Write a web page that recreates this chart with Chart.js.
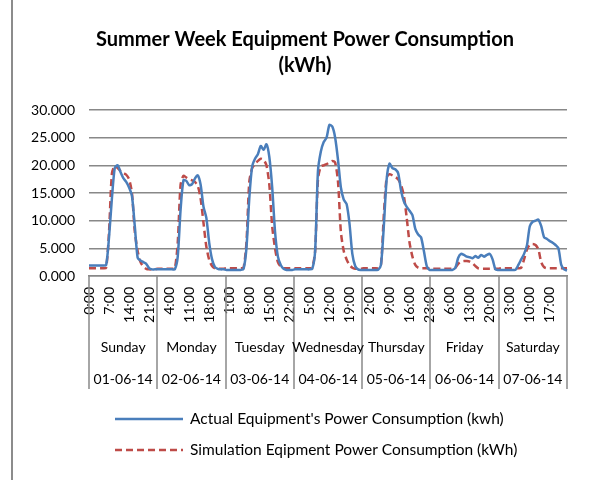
<!DOCTYPE html>
<html>
<head>
<meta charset="utf-8">
<script src="https://cdn.jsdelivr.net/npm/chart.js@4"></script>
<style>
  body { margin: 0; background: #fff; }
</style>
</head>
<body>
<canvas id="myChart" width="593" height="480"></canvas>
<script>
const titleLines = ['Summer Week Equipment Power Consumption', '(kWh)'];
const hours = ['0:00','1:00','2:00','3:00','4:00','5:00','6:00','7:00','8:00','9:00','10:00','11:00',
               '12:00','13:00','14:00','15:00','16:00','17:00','18:00','19:00','20:00','21:00','22:00','23:00'];
const dayNames = ['Sunday','Monday','Tuesday','Wednesday','Thursday','Friday','Saturday'];
const dayDates = ['01-06-14','02-06-14','03-06-14','04-06-14','05-06-14','06-06-14','07-06-14'];

// actual equipment power (kWh), one array per day, hourly
const actualSun = [1.9,1.9,1.9,1.9,1.9,1.9,2.0,7.0,14.0,19.5,20.0,18.8,17.7,17.0,16.0,14.5,9.0,3.3,2.8,2.5,2.2,1.4,1.2,1.2];
const actualMon = [1.2,1.2,1.2,1.2,1.2,1.2,1.2,3.5,12.0,17.3,17.2,16.4,16.6,17.6,18.2,16.5,12.5,10.5,6.0,3.0,1.6,1.3,1.2,1.2];
const actualTue = [1.1,1.1,1.1,1.1,1.1,1.1,1.3,5.0,14.0,19.8,21.2,22.0,23.5,22.8,23.8,21.5,16.0,8.0,3.5,2.0,1.3,1.1,1.1,1.1];
const actualWed = [1.2,1.2,1.2,1.2,1.2,1.2,1.3,4.5,19.0,22.5,24.2,25.0,27.3,27.0,25.0,21.0,16.0,13.8,13.0,9.5,4.0,1.8,1.2,1.1];
const actualThu = [1.1,1.1,1.1,1.1,1.1,1.1,2.0,9.0,17.5,20.3,19.5,19.3,18.6,15.5,13.5,12.5,11.8,11.0,8.5,7.5,7.0,4.5,1.8,1.1];
const actualFri = [1.1,1.1,1.1,1.1,1.1,1.1,1.1,1.1,1.5,3.3,4.0,3.8,3.5,3.4,3.2,3.6,3.3,3.8,3.5,3.8,4.0,3.0,1.2,1.1];
const actualSat = [1.1,1.1,1.1,1.1,1.1,1.1,2.0,3.0,4.0,5.5,9.0,9.8,10.0,10.2,9.0,7.0,6.7,6.3,6.0,5.6,5.0,2.0,1.2,1.0];

// simulation
const simSun = [1.4,1.4,1.4,1.4,1.4,1.4,1.5,8.0,18.5,19.9,19.5,19.0,18.6,18.3,17.5,15.0,8.0,4.5,2.5,1.7,1.3,1.2,1.2,1.2];
const simMon = [1.3,1.3,1.3,1.3,1.3,1.3,1.4,6.0,16.5,18.1,17.8,17.5,17.3,17.0,16.3,14.0,9.6,5.3,2.9,1.8,1.4,1.3,1.3,1.3];
const simTue = [1.4,1.4,1.4,1.4,1.4,1.4,1.5,6.0,17.0,19.5,20.2,20.8,21.2,21.0,20.0,16.5,9.0,5.0,2.5,1.7,1.4,1.4,1.4,1.4];
const simWed = [1.4,1.4,1.4,1.4,1.4,1.4,1.5,4.5,17.5,19.8,20.0,20.2,20.5,20.8,20.5,17.0,8.0,4.5,3.0,2.0,1.5,1.3,1.3,1.3];
const simThu = [1.4,1.4,1.4,1.4,1.4,1.4,2.0,11.0,17.8,18.4,18.2,17.9,17.5,16.5,14.5,10.5,6.0,3.5,2.0,1.5,1.4,1.4,1.4,1.4];
const simFri = [1.3,1.3,1.3,1.3,1.3,1.3,1.3,1.3,1.5,2.2,2.6,2.7,2.7,2.6,2.3,1.8,1.4,1.3,1.3,1.3,1.3,1.3,1.3,1.3];
const simSat = [1.4,1.4,1.4,1.4,1.4,1.4,1.4,1.5,3.0,4.8,5.6,5.8,5.6,4.8,2.5,1.6,1.4,1.4,1.4,1.4,1.4,1.4,1.4,1.4];

const labels = dayNames.flatMap(() => hours);
const actual = [].concat(actualSun, actualMon, actualTue, actualWed, actualThu, actualFri, actualSat);
const simulation = [].concat(simSun, simMon, simTue, simWed, simThu, simFri, simSat);

const FONT = 'Lato';
const TXT = '#000';

// title, left chart border, day/date rows under the axis and the legend
const excelDecor = {
  id: 'excelDecor',
  afterDraw(chart) {
    const ctx = chart.ctx;
    const a = chart.chartArea;
    ctx.save();
    ctx.strokeStyle = '#8c8c8c';
    ctx.lineWidth = 2;
    ctx.beginPath();
    ctx.moveTo(12, 0);
    ctx.lineTo(12, 480);
    ctx.stroke();

    ctx.fillStyle = TXT;
    ctx.textAlign = 'center';
    ctx.textBaseline = 'middle';
    ctx.font = 'bold 20px ' + FONT;
    titleLines.forEach((t, i) => ctx.fillText(t, 305, 40 + i * 26));

    const w = (a.right - a.left) / dayNames.length;
    ctx.strokeStyle = '#888';
    ctx.lineWidth = 1.5;
    for (let k = 0; k <= dayNames.length; k++) {
      const px = Math.round(a.left + k * w);
      ctx.beginPath();
      ctx.moveTo(px, a.bottom);
      ctx.lineTo(px, a.bottom + 113);
      ctx.stroke();
    }
    ctx.font = '14px ' + FONT;
    dayNames.forEach((d, k) => {
      const cx = a.left + (k + 0.5) * w;
      ctx.fillText(d, cx, a.bottom + 71);
      ctx.fillText(dayDates[k], cx, a.bottom + 103);
    });

    ctx.font = '15.5px ' + FONT;
    chart.data.datasets.forEach((ds, i) => {
      const y = 419 + i * 31;
      ctx.strokeStyle = ds.borderColor;
      ctx.lineWidth = ds.borderWidth;
      ctx.setLineDash(ds.borderDash || []);
      ctx.beginPath();
      ctx.moveTo(115, y);
      ctx.lineTo(183, y);
      ctx.stroke();
      ctx.setLineDash([]);
      ctx.textAlign = 'left';
      ctx.fillText(ds.label, 190, y);
    });
    ctx.restore();
  }
};

new Chart(document.getElementById('myChart'), {
  type: 'line',
  data: {
    labels: labels,
    datasets: [{
      label: "Actual Equipment's Power Consumption (kwh)",
      data: actual,
      borderColor: '#4a7ebb',
      borderWidth: 2.5,
      tension: 0.25,
      pointRadius: 0
    }, {
      label: 'Simulation Eqipment Power Consumption (kWh)',
      data: simulation,
      borderColor: '#be4b48',
      borderWidth: 2.5,
      borderDash: [7, 4],
      tension: 0.25,
      pointRadius: 0
    }]
  },
  options: {
    responsive: false,
    animation: false,
    layout: { padding: { left: 15, right: 26, top: 110, bottom: 90 } },
    plugins: {
      legend: { display: false },
      tooltip: { enabled: false },
      title: { display: false }
    },
    scales: {
      x: {
        grid: { display: false },
        border: { color: '#888', width: 1.5 },
        ticks: {
          autoSkip: false,
          minRotation: 90,
          maxRotation: 90,
          padding: 3,
          color: TXT,
          font: { family: FONT, size: 14 },
          callback: function (v, i) { return i % 7 === 0 ? this.getLabelForValue(v) : ''; }
        },
        afterFit: s => { s.height = 114; }
      },
      y: {
        min: 0,
        max: 30,
        border: { display: false },
        grid: { color: '#888', lineWidth: 1.5, drawTicks: false },
        ticks: {
          stepSize: 5,
          padding: 14,
          color: TXT,
          font: { family: FONT, size: 14 },
          callback: v => v.toFixed(3)
        },
        afterFit: s => { s.width = 74; }
      }
    }
  },
  plugins: [excelDecor]
});
</script>
</body>
</html>
